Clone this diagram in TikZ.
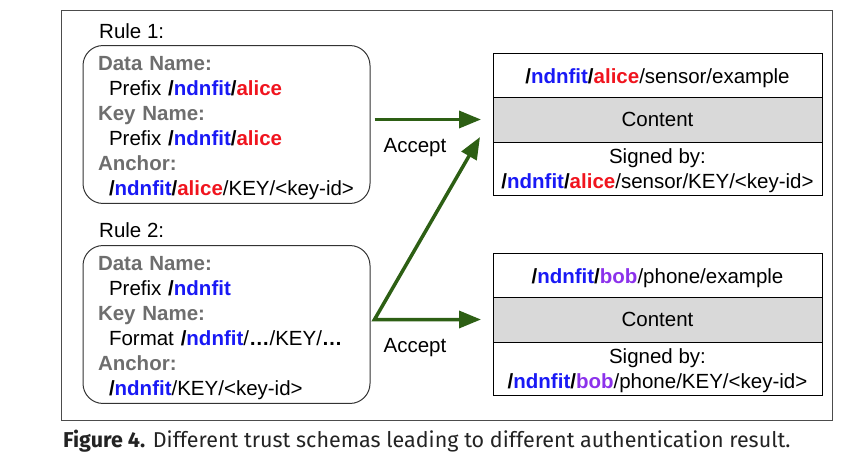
\documentclass[tikz,border=0pt]{standalone}
\usepackage{fontspec}
\setmainfont{Liberation Sans}
\newfontfamily\capfont{Fira Sans}
\usetikzlibrary{arrows.meta,positioning}

\definecolor{ndnblue}{RGB}{25,25,245}
\definecolor{alicered}{RGB}{240,20,30}
\definecolor{bobviolet}{RGB}{140,50,235}
\definecolor{headgray}{RGB}{110,110,110}
\definecolor{acceptgreen}{RGB}{45,95,20}
\definecolor{contentgray}{RGB}{217,217,217}
\definecolor{captionblack}{RGB}{35,35,35}

\def\ndnfit{\textcolor{ndnblue}{\textbf{ndnfit}}}
\def\alice{\textcolor{alicered}{\textbf{alice}}}
\def\bob{\textcolor{bobviolet}{\textbf{bob}}}
\def\bslash{\textbf{/}}
\def\rulehead#1{\textcolor{headgray}{\textbf{#1}}}
\def\subindent{\hspace*{11pt}}

\tikzset{
  >={Triangle[length=22pt,width=17pt]},
  rulebox/.style={draw=black!80, line width=1pt, rounded corners=20pt,
    minimum height=157pt, text width=257pt, inner xsep=15pt, align=left,
    font=\fontsize{20.5}{25}\selectfont},
  pktpart/.style={draw, line width=0.9pt, minimum width=329pt, inner sep=0pt,
    outer sep=0pt, align=center, font=\fontsize{20.5}{25}\selectfont},
  label20/.style={inner sep=0pt, font=\fontsize{20.5}{25}\selectfont},
  flow/.style={draw=acceptgreen, line width=3.5pt, ->},
}

\begin{document}
\begin{tikzpicture}[x=1pt,y=-1pt]
\useasboundingbox (0,0) rectangle (866,470);
\draw[black!70, line width=0.8pt] (61,10) rectangle (832,420);

% Regeln
\node[label20, anchor=west] (lab1) at (99,31) {Rule 1:};
\node[rulebox] (rule1) at (226.5,124.5) {%
  \rule{0pt}{22pt}\rulehead{Data Name:}\\
  \subindent Prefix \bslash\ndnfit\bslash\alice\\
  \rulehead{Key Name:}\\
  \subindent Prefix \bslash\ndnfit\bslash\alice\\
  \rulehead{Anchor:}\\
  \subindent\bslash\ndnfit\bslash\alice/KEY/<key-id>};

\node[label20, anchor=west] (lab2) at (99,230) {Rule 2:};
\node[rulebox] (rule2) at (226.5,324.5) {%
  \rule{0pt}{22pt}\rulehead{Data Name:}\\
  \subindent Prefix \bslash\ndnfit\\
  \rulehead{Key Name:}\\
  \subindent Format \bslash\ndnfit/\textbf{…}/KEY/\textbf{…}\\
  \rulehead{Anchor:}\\
  \subindent\bslash\ndnfit/KEY/<key-id>};

% Pakete
\foreach \id/\ytop/\who/\dev in {1/53/\alice/sensor,2/253/\bob/phone}{
  \node[pktpart, minimum height=44pt, anchor=north west] (pkt\id name) at (493,\ytop)
    {\rule{0pt}{21pt}\bslash\ndnfit\bslash\who/\dev/example};
  \node[pktpart, fill=contentgray, minimum height=45pt, below=0pt of pkt\id name]
    (pkt\id cont) {Content};
  \node[pktpart, minimum height=53pt, below=0pt of pkt\id cont] (pkt\id sig)
    {\rule{0pt}{19pt}Signed by:\\\bslash\ndnfit\bslash\who/\dev/KEY/<key-id>};
}

% Pfeile
\path (pkt1cont.west) ++(-12,0) coordinate (in1);
\path (rule1.east |- in1) ++(4,0) coordinate (out1);
\path (pkt1cont.south west) ++(-13,-5) coordinate (in2);
\path (pkt2cont.west) ++(-12,0) coordinate (in3);
\path (rule2.east |- in3) ++(4,0) coordinate (out2);
\draw[flow] (out1) -- (in1);
\draw[flow, <->] (in2) -- (out2) -- (in3);

\node[label20] (acc1) at (415,148) {Accept};
\node[label20] (acc2) at (415,348) {Accept};

% Bildunterschrift
\node[anchor=base west, inner sep=0pt, text=captionblack] (caption) at (63,447)
  {\capfont\fontsize{21.5}{26}\selectfont\textbf{Figure 4.} Different trust schemas leading to different authentication result.};
\end{tikzpicture}
\end{document}
